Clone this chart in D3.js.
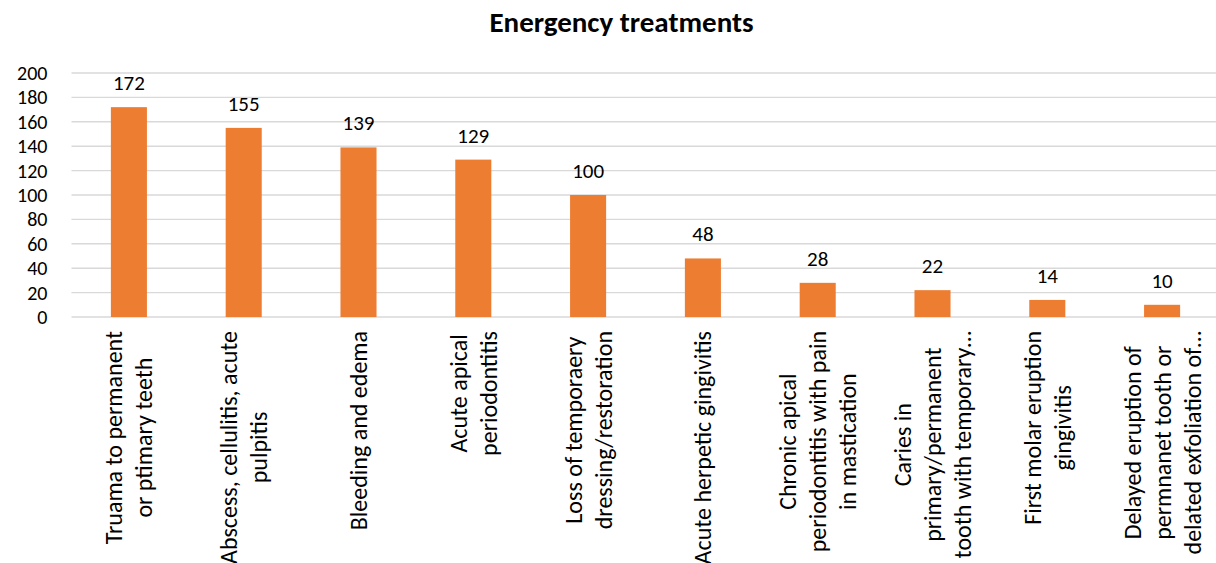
<!DOCTYPE html>
<html>
<head>
<meta charset="utf-8">
<script src="https://cdn.jsdelivr.net/npm/d3@7"></script>
<style>
  html, body { margin: 0; padding: 0; background: #fff; }
  svg { display: block; font-family: Carlito, Calibri, Lato, sans-serif; }
</style>
</head>
<body>
<svg id="chart" width="1216" height="563"></svg>
<script>
(function () {
  // categories (one entry per line of the wrapped label)
  const categories = [
    ["Truama to permanent", "or ptimary teeth"],
    ["Abscess, cellulitis, acute", "pulpitis"],
    ["Bleeding and edema"],
    ["Acute apical", "periodontitis"],
    ["Loss of temporaery", "dressing/restoration"],
    ["Acute herpetic gingivitis"],
    ["Chronic apical", "periodontitis with pain", "in mastication"],
    ["Caries in", "primary/permanent", "tooth with temporary…"],
    ["First molar eruption", "gingivitis"],
    ["Delayed eruption of", "permnanet tooth or", "delated exfoliation of…"]
  ];
  const values = [172, 155, 139, 129, 100, 48, 28, 22, 14, 10];
  const yTicks = [0, 20, 40, 60, 80, 100, 120, 140, 160, 180, 200];
  const title = "Energency treatments";

  const data = categories.map((lines, i) => ({ key: i, lines, value: values[i] }));

  const svg = d3.select("#chart");
  const plot = { left: 71.5, right: 1219.5, top: 73, bottom: 317 };

  const x = d3.scaleBand()
    .domain(data.map(d => d.key))
    .range([plot.left, plot.right])
    .paddingInner(0.686)
    .paddingOuter(0.343);

  const y = d3.scaleLinear()
    .domain([0, 200])
    .range([plot.bottom, plot.top]);

  // title
  svg.append("text")
    .attr("x", 621.5)
    .attr("y", 32)
    .attr("text-anchor", "middle")
    .style("font-size", "29px")
    .style("font-weight", "700")
    .style("fill", "#000")
    .text(title);

  // gridlines
  svg.append("g")
    .selectAll("line")
    .data(yTicks)
    .enter()
    .append("line")
    .attr("x1", plot.left)
    .attr("x2", plot.right)
    .attr("y1", d => y(d))
    .attr("y2", d => y(d))
    .attr("stroke", "#d9d9d9")
    .attr("stroke-width", 1.4);

  // y axis labels
  const yAxis = svg.append("g")
    .attr("transform", `translate(${plot.left},0)`)
    .call(d3.axisLeft(y).tickValues(yTicks).tickSize(0).tickPadding(24));
  yAxis.select(".domain").remove();
  yAxis.selectAll("text")
    .style("font-size", "20px")
    .style("font-family", "Carlito, Calibri, Lato, sans-serif")
    .attr("fill", "#000");

  // bars
  svg.append("g")
    .selectAll("rect")
    .data(data)
    .enter()
    .append("rect")
    .attr("x", d => x(d.key))
    .attr("y", d => y(d.value))
    .attr("width", x.bandwidth())
    .attr("height", d => y(0) - y(d.value))
    .attr("fill", "#ED7D31");

  // value labels
  svg.append("g")
    .selectAll("text")
    .data(data)
    .enter()
    .append("text")
    .attr("x", d => x(d.key) + x.bandwidth() / 2)
    .attr("y", d => y(d.value) - 17)
    .attr("text-anchor", "middle")
    .style("font-size", "21px")
    .style("fill", "#000")
    .text(d => d.value);

  // rotated, wrapped category labels
  const lineH = 30;
  const labelTop = 331;
  const xl = svg.append("g");
  data.forEach(d => {
    const cx = x(d.key) + x.bandwidth() / 2;
    const n = d.lines.length;
    const g = xl.append("g");
    const texts = d.lines.map(t =>
      g.append("text")
        .style("font-size", "24px")
        .style("fill", "#000")
        .attr("text-anchor", "middle")
        .attr("dy", "0.35em")
        .text(t)
    );
    const maxLen = d3.max(texts, t => t.node().getComputedTextLength());
    const cy = labelTop + maxLen / 2;
    texts.forEach((t, j) => {
      const lx = cx + (j - (n - 1) / 2) * lineH;
      t.attr("transform", `translate(${lx},${cy}) rotate(-90)`);
    });
  });
})();
</script>
</body>
</html>
